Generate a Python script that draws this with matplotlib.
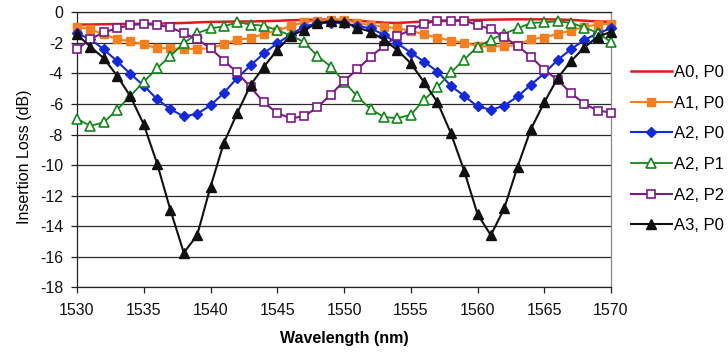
import matplotlib
matplotlib.use("Agg")
import matplotlib.pyplot as plt
from matplotlib.ticker import FixedLocator, FuncFormatter

plt.rcParams['font.family'] = ['Liberation Sans', 'DejaVu Sans']
plt.rcParams['axes.unicode_minus'] = False

wavelength = [1530, 1531, 1532, 1533, 1534, 1535, 1536, 1537, 1538, 1539,
              1540, 1541, 1542, 1543, 1544, 1545, 1546, 1547, 1548, 1549,
              1550, 1551, 1552, 1553, 1554, 1555, 1556, 1557, 1558, 1559,
              1560, 1561, 1562, 1563, 1564, 1565, 1566, 1567, 1568, 1569, 1570]

a0_p0 = [-0.80, -0.80, -0.78, -0.77, -0.76, -0.75, -0.74, -0.72, -0.70, -0.66,
         -0.63, -0.62, -0.60, -0.60, -0.58, -0.56, -0.52, -0.50, -0.48, -0.48,
         -0.50, -0.55, -0.62, -0.68, -0.70, -0.65, -0.60, -0.58, -0.56, -0.52,
         -0.50, -0.48, -0.47, -0.46, -0.46, -0.46, -0.47, -0.50, -0.55, -0.60, -0.62]

a1_p0 = [-0.95, -1.10, -1.45, -1.75, -1.90, -2.10, -2.35, -2.35, -2.40, -2.40,
         -2.35, -2.10, -1.80, -1.70, -1.40, -1.20, -0.90, -0.65, -0.55, -0.50,
         -0.50, -0.70, -0.85, -0.95, -1.05, -1.20, -1.45, -1.65, -1.85, -2.00,
         -2.20, -2.25, -2.20, -2.15, -1.75, -1.65, -1.40, -1.20, -0.95, -0.80, -0.75]

a2_p0 = [-1.37, -1.76, -2.42, -3.20, -4.03, -4.80, -5.69, -6.34, -6.82, -6.64,
         -6.10, -5.27, -4.30, -3.48, -2.68, -2.03, -1.46, -0.94, -0.72, -0.68,
         -0.72, -0.89, -1.05, -1.48, -2.03, -2.64, -3.23, -3.88, -4.81, -5.47,
         -6.16, -6.38, -6.12, -5.51, -4.75, -3.99, -3.12, -2.42, -1.81, -1.37, -1.05]

a2_p1 = [-6.97, -7.43, -7.21, -6.38, -5.47, -4.55, -3.66, -2.85, -2.03, -1.37,
         -1.05, -0.92, -0.65, -0.80, -0.88, -1.18, -1.50, -1.95, -2.85, -3.55,
         -4.53, -5.51, -6.34, -6.86, -6.93, -6.71, -5.73, -4.90, -3.94, -3.10,
         -2.25, -1.80, -1.40, -1.05, -0.70, -0.65, -0.60, -0.68, -1.00, -1.33, -1.95]

a2_p2 = [-2.42, -1.76, -1.31, -1.05, -0.83, -0.76, -0.83, -0.98, -1.37, -1.76,
         -2.35, -3.16, -3.94, -4.90, -5.90, -6.60, -6.93, -6.82, -6.21, -5.40,
         -4.50, -3.73, -2.90, -2.20, -1.55, -1.15, -0.76, -0.54, -0.54, -0.54,
         -0.83, -1.11, -1.63, -2.20, -2.90, -3.77, -4.42, -5.29, -5.99, -6.43, -6.56]

a3_p0 = [-1.45, -2.25, -3.00, -4.15, -5.50, -7.34, -9.90, -12.95, -15.74, -14.59,
         -11.42, -8.55, -6.60, -4.76, -3.56, -2.47, -1.53, -1.16, -0.72, -0.57,
         -0.66, -1.01, -1.27, -1.81, -2.47, -3.34, -4.58, -5.89, -7.90, -10.37,
         -13.21, -14.59, -12.84, -10.11, -7.65, -5.90, -4.31, -3.20, -2.30, -1.60, -1.28]

labels = ["A0, P0", "A1, P0", "A2, P0", "A2, P1", "A2, P2", "A3, P0"]
x_ticks = [1530, 1535, 1540, 1545, 1550, 1555, 1560, 1565, 1570]
y_ticks = [0, -2, -4, -6, -8, -10, -12, -14, -16, -18]

W, H = 728, 358
fig = plt.figure(figsize=(W / 100, H / 100), dpi=100)
left, right, top, bottom = 77, 611, 12.3, 287.3
ax = fig.add_axes([left / W, 1 - bottom / H, (right - left) / W, (bottom - top) / H])

ax.set_xlim(1530, 1570)
ax.set_ylim(-18, 0)

for yv in y_ticks:
    ax.axhline(yv, color='#2a2a2a', lw=0.9, zorder=1)

series = [
    (a0_p0, dict(color='#e01a1a', lw=1.8, marker=None)),
    (a1_p0, dict(color='#f57f1e', lw=1.5, marker='s', ms=6, mfc='#f57f1e', mec='#f57f1e')),
    (a2_p0, dict(color='#1428dc', lw=1.5, marker='D', ms=5, mfc='#1428dc', mec='#1428dc')),
    (a2_p1, dict(color='#13871a', lw=1.3, marker='^', ms=6.5, mfc='white', mec='#13871a', mew=1.2)),
    (a2_p2, dict(color='#7a1a86', lw=1.5, marker='s', ms=6.2, mfc='white', mec='#7a1a86', mew=1.2)),
    (a3_p0, dict(color='#111111', lw=1.5, marker='^', ms=6.5, mfc='#111111', mec='#111111')),
]
handles = []
for (vals, kw), lab in zip(series, labels):
    h, = ax.plot(wavelength, vals, label=lab, zorder=3, clip_on=False, **kw)
    handles.append(h)

ax.xaxis.set_major_locator(FixedLocator(x_ticks))
ax.yaxis.set_major_locator(FixedLocator(y_ticks))
ax.yaxis.set_major_formatter(FuncFormatter(lambda v, p: "%d" % v))
ax.tick_params(axis='both', direction='out', length=4, width=0.9, color='#222222',
               labelsize=11.5, labelcolor='#111111')
ax.tick_params(axis='y', pad=6)
ax.tick_params(axis='x', pad=7)

for s in ['left', 'bottom', 'top']:
    ax.spines[s].set_color('#222222')
    ax.spines[s].set_linewidth(0.9)
ax.spines['right'].set_color('#8a8a8a')
ax.spines['right'].set_linewidth(0.9)

ax.set_xlabel("Wavelength (nm)", fontsize=11.5, fontweight='bold', va='center')
ax.xaxis.set_label_coords(0.5, -(338 - bottom) / (bottom - top))
ax.set_ylabel("Insertion Loss (dB)", fontsize=11.5, va='center')
ax.yaxis.set_label_coords((24 - left) / (right - left), (bottom - 157) / (bottom - top))

fig.legend(handles=handles, labels=labels, loc='upper left',
           bbox_to_anchor=(631 / W, 1 - 65 / H), frameon=False, fontsize=12,
           handlelength=2.45, handletextpad=0.15, labelspacing=0.94,
           borderpad=0, borderaxespad=0)

fig.savefig("out.png", dpi=100)
